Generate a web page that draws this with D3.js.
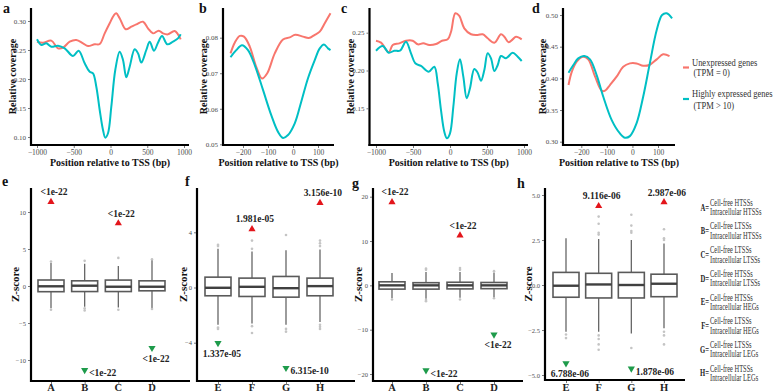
<!DOCTYPE html>
<html><head><meta charset="utf-8">
<script src="https://cdn.jsdelivr.net/npm/d3@7"></script>
<style>
body{margin:0;background:#fff}
svg{display:block}
text{font-family:"Liberation Serif","Times New Roman",serif}
</style>
</head><body>
<svg id="fig" width="778" height="392"></svg>
<script>
// ---------------- DATA ----------------
// Panel a (position bp, relative coverage)
const aUnexpPos = [-1000,-918,-805,-714,-646,-555,-465,-374,-306,-215,-147,-79,-11,48,79,125,207,283,351,442,510,578,656,714,782,873,955];
const aUnexpCov = [0.2643,0.2626,0.2661,0.2529,0.2540,0.2643,0.2672,0.2615,0.2569,0.2598,0.2603,0.2787,0.2960,0.3103,0.3132,0.3047,0.2857,0.2902,0.2943,0.2988,0.2874,0.2787,0.2833,0.2787,0.2770,0.2828,0.2684];
const aHighPos = [-1000,-941,-873,-805,-714,-623,-510,-433,-351,-283,-238,-193,-147,-102,-71,-34,11,65,125,170,215,261,329,374,419,487,533,592,646,701,773,850,918,955];
const aHighCov = [0.2684,0.2586,0.2615,0.2557,0.2575,0.2529,0.2397,0.2488,0.2270,0.2126,0.2098,0.1867,0.1466,0.1121,0.0988,0.1064,0.1522,0.2155,0.2471,0.2328,0.2029,0.2212,0.2512,0.2443,0.2283,0.2500,0.2643,0.2488,0.2626,0.2741,0.2598,0.2643,0.2701,0.2770];
// Panel b
const bUnexpPos = [-250,-233,-213,-196,-173,-147,-124,-103,-73,-40,-13,9,40,63,87,107,127,150];
const bUnexpCov = [0.0756,0.0786,0.0805,0.0803,0.0775,0.0718,0.0685,0.0700,0.0756,0.0795,0.0801,0.0808,0.0803,0.0799,0.0808,0.0817,0.0841,0.0869];
const bHighPos = [-250,-227,-204,-180,-153,-120,-87,-60,-40,-20,7,33,60,87,107,124,140,150];
const bHighCov = [0.0745,0.0765,0.0779,0.0765,0.0723,0.0653,0.0582,0.0535,0.0518,0.0526,0.0559,0.0620,0.0686,0.0737,0.0770,0.0781,0.0770,0.0765];
// Panel c
const cUnexpPos = [-1000,-932,-828,-774,-685,-595,-504,-436,-361,-280,-189,-108,-31,14,72,126,193,284,374,442,509,599,689,734,793,847,892,969];
const cUnexpCov = [0.2394,0.2368,0.2241,0.2337,0.2359,0.2394,0.2394,0.2346,0.2359,0.2337,0.2350,0.2394,0.2412,0.2513,0.2757,0.2721,0.2558,0.2479,0.2470,0.2479,0.2426,0.2368,0.2479,0.2447,0.2373,0.2412,0.2447,0.2412];
const cHighPos = [-1000,-909,-828,-753,-676,-595,-527,-469,-392,-288,-212,-166,-122,-77,-41,0,45,91,135,180,226,270,328,374,419,464,509,554,599,645,689,757,847,915,969];
const cHighCov = [0.2262,0.2324,0.2235,0.2262,0.2262,0.2381,0.2227,0.2095,0.2060,0.1984,0.2050,0.1831,0.1478,0.1190,0.1103,0.1169,0.1521,0.1962,0.2148,0.1918,0.1632,0.1765,0.2020,0.1971,0.1865,0.2007,0.2227,0.2161,0.1993,0.2073,0.2192,0.2161,0.2235,0.2182,0.2126];
// Panel d
const dUnexpPos = [-250,-237,-218,-195,-173,-146,-120,-107,-88,-62,-36,-10,16,42,66,95,120,145];
const dUnexpCov = [0.3894,0.4105,0.4262,0.4341,0.4300,0.4026,0.3805,0.3805,0.3894,0.4026,0.4183,0.4236,0.4236,0.4199,0.4210,0.4300,0.4379,0.4352];
const dHighPos = [-250,-231,-212,-188,-166,-140,-114,-81,-49,-29,-10,16,42,68,95,116,134,155];
const dHighCov = [0.4089,0.4210,0.4316,0.4352,0.4300,0.4052,0.3710,0.3341,0.3131,0.3062,0.3088,0.3289,0.3710,0.4236,0.4763,0.5000,0.5027,0.4947];

const wideXTicks = [-1000,-500,0,500,1000];
const narrowXTicks = [-200,-100,0,100];
const aYTicks = [0.10,0.15,0.20,0.25,0.30];
const bYTicks = [0.05,0.06,0.07,0.08];
const cYTicks = [0.15,0.20,0.25];
const dYTicks = [0.30,0.35,0.40,0.45,0.50];
const seriesNames = ["Unexpressed genes","Highly expressed genes"];
const seriesSub = ["(TPM = 0)","(TPM > 10)"];
const seriesColors = ["#F8766D","#00BFC4"];

// Box panels: categories, quartiles, whiskers, outliers
const eCats = ["A","B","C","D"];
const eQ1 = [-0.77,-0.75,-0.75,-0.65], eMed = [-0.04,0.04,-0.10,-0.10], eQ3 = [0.81,0.70,0.80,0.70];
const eLo = [-3.0,-2.8,-2.9,-3.0], eHi = [3.1,3.0,2.7,3.5];
const eOut = [[3.3,-3.2],[3.4,-3.0,-3.3],[3.8,-3.2],[3.6,-3.1]];
const eUpCats = ["A","C"], eUpVals = [11.5,8.6], eUpLabels = ["<1e-22","<1e-22"];
const eDownCats = ["B","D"], eDownVals = [-11.5,-8.5], eDownLabels = ["<1e-22","<1e-22"];
const eYTicks = [-10,-5,0,5,10];

const fCats = ["E","F","G","H"];
const fQ1 = [-0.60,-0.65,-0.70,-0.60], fMed = [-0.02,0.05,-0.05,0.10], fQ3 = [0.75,0.68,0.80,0.68];
const fLo = [-2.7,-2.6,-2.7,-2.5], fHi = [2.8,2.6,2.7,2.75];
const fOut = [[3.0,3.1,-2.9,-3.0],[2.8,3.4,-2.8,-3.3],[3.8,-3.0,-3.2],[3.0,3.2,3.4,-2.7,-2.85,-3.0]];
const fUpCats = ["F","H"], fUpVals = [4.3,6.2], fUpLabels = ["1.981e-05","3.156e-10"];
const fDownCats = ["E","G"], fDownVals = [-4.1,-5.9], fDownLabels = ["1.337e-05","6.315e-10"];
const fYTicks = [-4,0,4];

const gCats = ["A","B","C","D"];
const gQ1 = [-0.85,-0.85,-0.80,-0.75], gMed = [0,0,0,0], gQ3 = [0.80,0.60,0.70,0.65];
const gLo = [-2.9,-3.0,-2.8,-2.8], gHi = [2.8,3.0,3.0,2.9];
const gOut = [[-3.2],[3.5,3.8,-3.3,-3.6],[3.5,3.9,-3.2],[3.2,-2.9]];
const gUpCats = ["A","C"], gUpVals = [19.0,11.5], gUpLabels = ["<1e-22","<1e-22"];
const gDownCats = ["B","D"], gDownVals = [-19.4,-11.3], gDownLabels = ["<1e-22","<1e-22"];
const gYTicks = [-20,-10,0,10,20];

const hCats = ["E","F","G","H"];
const hQ1 = [-0.68,-0.72,-0.72,-0.65], hMed = [-0.04,0.03,0.0,0.07], hQ3 = [0.70,0.65,0.70,0.60];
const hLo = [-2.6,-2.6,-2.7,-2.4], hHi = [2.6,2.55,2.5,2.3];
const hOut = [[-2.75,-2.95],[2.8,2.9,3.4,3.8,-2.8,-3.0,-3.3,-3.6],[2.9,3.0,3.3,3.9,-3.5],[2.5,2.6,3.1,-2.6,-2.8,-3.3]];
const hUpCats = ["F","H"], hUpVals = [4.44,4.65], hUpLabels = ["9.116e-06","2.987e-06"];
const hDownCats = ["E","G"], hDownVals = [-4.4,-4.7], hDownLabels = ["6.788e-06","1.878e-06"];
const hYTicks = [-5,-2.5,0,2.5,5];

const keyLetters = ["A","B","C","D","E","F","G","H"];
const keyLine1 = ["Cell-free HTSSs","Cell-free LTSSs","Cell-free LTSSs","Cell-free HTSSs","Cell-free HTSSs","Cell-free LTSSs","Cell-free LTSSs","Cell-free HTSSs"];
const keyLine2 = ["Intracellular HTSSs","Intracellular HTSSs","Intracellular LTSSs","Intracellular LTSSs","Intracellular HEGs","Intracellular HEGs","Intracellular LEGs","Intracellular LEGs"];

// ---------------- DRAW ----------------
const svg = d3.select('#fig');
svg.append('rect').attr('width',778).attr('height',392).attr('fill','#fff');

function zip(a,b){ return a.map((v,i)=>[v,b[i]]); }

function panelLetter(ch, x, y){
  svg.append('text').attr('x',x).attr('y',y).text(ch)
    .attr('font-size',14).attr('font-weight','bold').attr('fill','#111');
}

function axesFrame(g, p){
  g.append('line').attr('x1',p.left).attr('x2',p.left).attr('y1',p.top).attr('y2',p.bottom+1)
    .attr('stroke','#000').attr('stroke-width',2.2);
  g.append('line').attr('x1',p.left-1).attr('x2',p.right).attr('y1',p.bottom).attr('y2',p.bottom)
    .attr('stroke','#000').attr('stroke-width',2.2);
}

function yAxisTicks(g, p, y, ticks, fmt, fs){
  const ax = d3.axisLeft(y).tickValues(ticks).tickFormat(fmt).tickSize(2).tickPadding(2);
  const ag = g.append('g').attr('transform',`translate(${p.left-1},0)`).call(ax);
  ag.select('.domain').remove();
  ag.selectAll('line').attr('stroke','#555').attr('stroke-width',0.8);
  ag.selectAll('text').attr('font-size',fs).attr('fill','#4d4d4d')
    .attr('font-family','"Liberation Serif","Times New Roman",serif');
}

const linePanels = [
  {letter:'a', lx:3, left:31, right:189, top:8, bottom:145, xRef:[-1000,1000], xPx:[37,184], yRef:[0.10,0.30], yPx:[137,21], xTicks:wideXTicks, yTicks:aYTicks, titleX:12,
   series:[zip(aUnexpPos,aUnexpCov), zip(aHighPos,aHighCov)]},
  {letter:'b', lx:199, left:223, right:334, top:8, bottom:145, xRef:[-200,100], xPx:[243,318], yRef:[0.05,0.08], yPx:[144.3,37.7], xTicks:narrowXTicks, yTicks:bYTicks, titleX:203,
   series:[zip(bUnexpPos,bUnexpCov), zip(bHighPos,bHighCov)]},
  {letter:'c', lx:341, left:369.5, right:528, top:8, bottom:145, xRef:[-1000,1000], xPx:[376,524], yRef:[0.15,0.25], yPx:[108.3,32.7], xTicks:wideXTicks, yTicks:cYTicks, titleX:350,
   series:[zip(cUnexpPos,cUnexpCov), zip(cHighPos,cHighCov)]},
  {letter:'d', lx:532, left:563, right:675, top:8, bottom:145, xRef:[-200,100], xPx:[581.3,658], yRef:[0.30,0.50], yPx:[141.7,15], xTicks:narrowXTicks, yTicks:dYTicks, titleX:542,
   series:[zip(dUnexpPos,dUnexpCov), zip(dHighPos,dHighCov)]}
];

linePanels.forEach(p=>{
  const g = svg.append('g');
  const x = d3.scaleLinear().domain(p.xRef).range(p.xPx);
  const y = d3.scaleLinear().domain(p.yRef).range(p.yPx);
  const line = d3.line().x(d=>x(d[0])).y(d=>y(d[1])).curve(d3.curveCatmullRom.alpha(0.5));
  p.series.forEach((s,i)=>{
    g.append('path').attr('d',line(s)).attr('fill','none')
      .attr('stroke',seriesColors[i]).attr('stroke-width',2).attr('stroke-linejoin','round');
  });
  axesFrame(g,p);
  yAxisTicks(g,p,y,p.yTicks,d3.format('.2f'),7);
  const xa = d3.axisBottom(x).tickValues(p.xTicks).tickFormat(d3.format('d')).tickSize(2).tickPadding(2);
  const xg = g.append('g').attr('transform',`translate(0,${p.bottom+1})`).call(xa);
  xg.select('.domain').remove();
  xg.selectAll('line').attr('stroke','#555').attr('stroke-width',0.8);
  xg.selectAll('text').attr('font-size',7.5).attr('fill','#4d4d4d')
    .attr('font-family','"Liberation Serif","Times New Roman",serif');
  g.append('text').attr('transform',`translate(${p.titleX},${(p.top+p.bottom)/2}) rotate(-90)`)
    .attr('text-anchor','middle').attr('dy','0.35em').text('Relative coverage')
    .attr('font-size',10).attr('font-weight','bold').attr('fill','#111');
  g.append('text').attr('x',(p.left+p.right)/2).attr('y',165.5).attr('text-anchor','middle')
    .text('Position relative to TSS (bp)').attr('font-size',10).attr('font-weight','bold').attr('fill','#111');
  panelLetter(p.letter,p.lx,13);
});

// top legend
const legY = [[66.5,75.8],[98,108.5]];
seriesNames.forEach((n,i)=>{
  svg.append('line').attr('x1',683).attr('x2',689).attr('y1',legY[i][0]+1).attr('y2',legY[i][0]+1)
    .attr('stroke',seriesColors[i]).attr('stroke-width',2.2);
  svg.append('text').attr('transform',`translate(692,${legY[i][0]-1}) scale(0.85,1)`).text(n)
    .attr('font-size',10).attr('fill','#333');
  svg.append('text').attr('transform',`translate(693.5,${legY[i][1]}) scale(0.85,1)`).text(seriesSub[i])
    .attr('font-size',10).attr('fill','#333');
});

// box panels
const boxPanels = [
  {letter:'e', lx:2, ly:186, left:31, right:190, top:188, bottom:381, cats:eCats, catPx:[51,152], yRef:[-10,10], yPx:[360,212], yTicks:eYTicks, fmt:d3.format('d'), titleX:15,
   q1:eQ1, med:eMed, q3:eQ3, lo:eLo, hi:eHi, out:eOut, upC:eUpCats, upV:eUpVals, upL:eUpLabels, dnC:eDownCats, dnV:eDownVals, dnL:eDownLabels},
  {letter:'f', lx:185, ly:186, left:197, right:355, top:188, bottom:381, cats:fCats, catPx:[218,320], yRef:[-4,4], yPx:[342.7,232.3], yTicks:fYTicks, fmt:d3.format('d'), titleX:183,
   q1:fQ1, med:fMed, q3:fQ3, lo:fLo, hi:fHi, out:fOut, upC:fUpCats, upV:fUpVals, upL:fUpLabels, dnC:fDownCats, dnV:fDownVals, dnL:fDownLabels},
  {letter:'g', lx:352, ly:188, left:373, right:523, top:188, bottom:381, cats:gCats, catPx:[392,494], yRef:[-20,20], yPx:[374,196.7], yTicks:gYTicks, fmt:d3.format('d'), titleX:358,
   q1:gQ1, med:gMed, q3:gQ3, lo:gLo, hi:gHi, out:gOut, upC:gUpCats, upV:gUpVals, upL:gUpLabels, dnC:gDownCats, dnV:gDownVals, dnL:gDownLabels},
  {letter:'h', lx:517, ly:188, left:545, right:685, top:188, bottom:380, cats:hCats, catPx:[566,664], yRef:[-5,5], yPx:[375,195], yTicks:hYTicks, fmt:d3.format('.1f'), titleX:528,
   q1:hQ1, med:hMed, q3:hQ3, lo:hLo, hi:hHi, out:hOut, upC:hUpCats, upV:hUpVals, upL:hUpLabels, dnC:hDownCats, dnV:hDownVals, dnL:hDownLabels}
];

boxPanels.forEach(p=>{
  const g = svg.append('g');
  const x = d3.scalePoint().domain(p.cats).range(p.catPx);
  const y = d3.scaleLinear().domain(p.yRef).range(p.yPx);
  const bw = 26;
  p.cats.forEach((c,i)=>{
    const cx = x(c);
    g.append('line').attr('x1',cx).attr('x2',cx).attr('y1',y(p.hi[i])).attr('y2',y(p.q3[i]))
      .attr('stroke','#666').attr('stroke-width',1.3);
    g.append('line').attr('x1',cx).attr('x2',cx).attr('y1',y(p.q1[i])).attr('y2',y(p.lo[i]))
      .attr('stroke','#666').attr('stroke-width',1.3);
    g.append('rect').attr('x',cx-bw/2).attr('y',y(p.q3[i])).attr('width',bw)
      .attr('height',y(p.q1[i])-y(p.q3[i])).attr('fill','#fff').attr('stroke','#5a5a5a').attr('stroke-width',1.6);
    g.append('line').attr('x1',cx-bw/2).attr('x2',cx+bw/2).attr('y1',y(p.med[i])).attr('y2',y(p.med[i]))
      .attr('stroke','#404040').attr('stroke-width',2.4);
    p.out[i].forEach(v=>{
      g.append('circle').attr('cx',cx).attr('cy',y(v)).attr('r',1.3).attr('fill','#c4c4c4');
    });
  });
  axesFrame(g,p);
  yAxisTicks(g,p,y,p.yTicks,p.fmt,6.5);
  const xa = d3.axisBottom(x).tickSize(2).tickPadding(2);
  const xg = g.append('g').attr('transform',`translate(0,${p.bottom+1})`).call(xa);
  xg.select('.domain').remove();
  xg.selectAll('line').attr('stroke','#555').attr('stroke-width',0.8);
  xg.selectAll('text').remove();
  p.cats.forEach(c=>{
    g.append('text').attr('x',x(c)).attr('y',391).attr('text-anchor','middle').text(c)
      .attr('font-size',10.5).attr('font-weight','bold').attr('fill','#222');
  });
  g.append('text').attr('transform',`translate(${p.titleX},${(p.top+p.bottom)/2}) rotate(-90)`)
    .attr('text-anchor','middle').attr('dy','0.35em').text('Z-score')
    .attr('font-size',11).attr('font-weight','bold').attr('fill','#111');
  // triangles and p-value labels
  p.upC.forEach((c,i)=>{
    const cx = x(c), cy = y(p.upV[i]);
    g.append('path').attr('d',`M${cx-3.6},${cy+3} L${cx+3.6},${cy+3} L${cx},${cy-3.2} Z`).attr('fill','#E3151B');
    g.append('text').attr('x',cx+3).attr('y',cy-9).attr('dy','0.35em').attr('text-anchor','middle')
      .text(p.upL[i]).attr('font-size',9.5).attr('font-weight','bold').attr('fill','#222');
  });
  p.dnC.forEach((c,i)=>{
    const cx = x(c), cy = y(p.dnV[i]);
    g.append('path').attr('d',`M${cx-3.6},${cy-3} L${cx+3.6},${cy-3} L${cx},${cy+3.2} Z`).attr('fill','#1E9B4B');
    const nearBottom = (p.bottom - cy) < 13;
    const t = g.append('text').text(p.dnL[i]).attr('font-size',9.5).attr('font-weight','bold').attr('fill','#222').attr('dy','0.35em');
    if(nearBottom){ t.attr('x',cx+4.5).attr('y',cy+2).attr('text-anchor','start'); }
    else { t.attr('x',cx+4).attr('y',cy+9.5).attr('text-anchor','middle'); }
  });
  panelLetter(p.letter,p.lx,p.ly);
});

// key legend (bottom right)
keyLetters.forEach((k,i)=>{
  const cy = 207.5 + i*23.7;
  svg.append('text').attr('transform',`translate(709,${cy+3}) scale(0.7,1)`).attr('text-anchor','end')
    .text(k+'=').attr('font-size',9.5).attr('font-weight','bold').attr('fill','#222');
  svg.append('text').attr('transform',`translate(710,${cy-4.75+3}) scale(0.68,1)`)
    .text(keyLine1[i]).attr('font-size',9.5).attr('fill','#333');
  svg.append('text').attr('transform',`translate(710,${cy+4.75+3}) scale(0.68,1)`)
    .text(keyLine2[i]).attr('font-size',9.5).attr('fill','#333');
});
</script>
</body></html>
